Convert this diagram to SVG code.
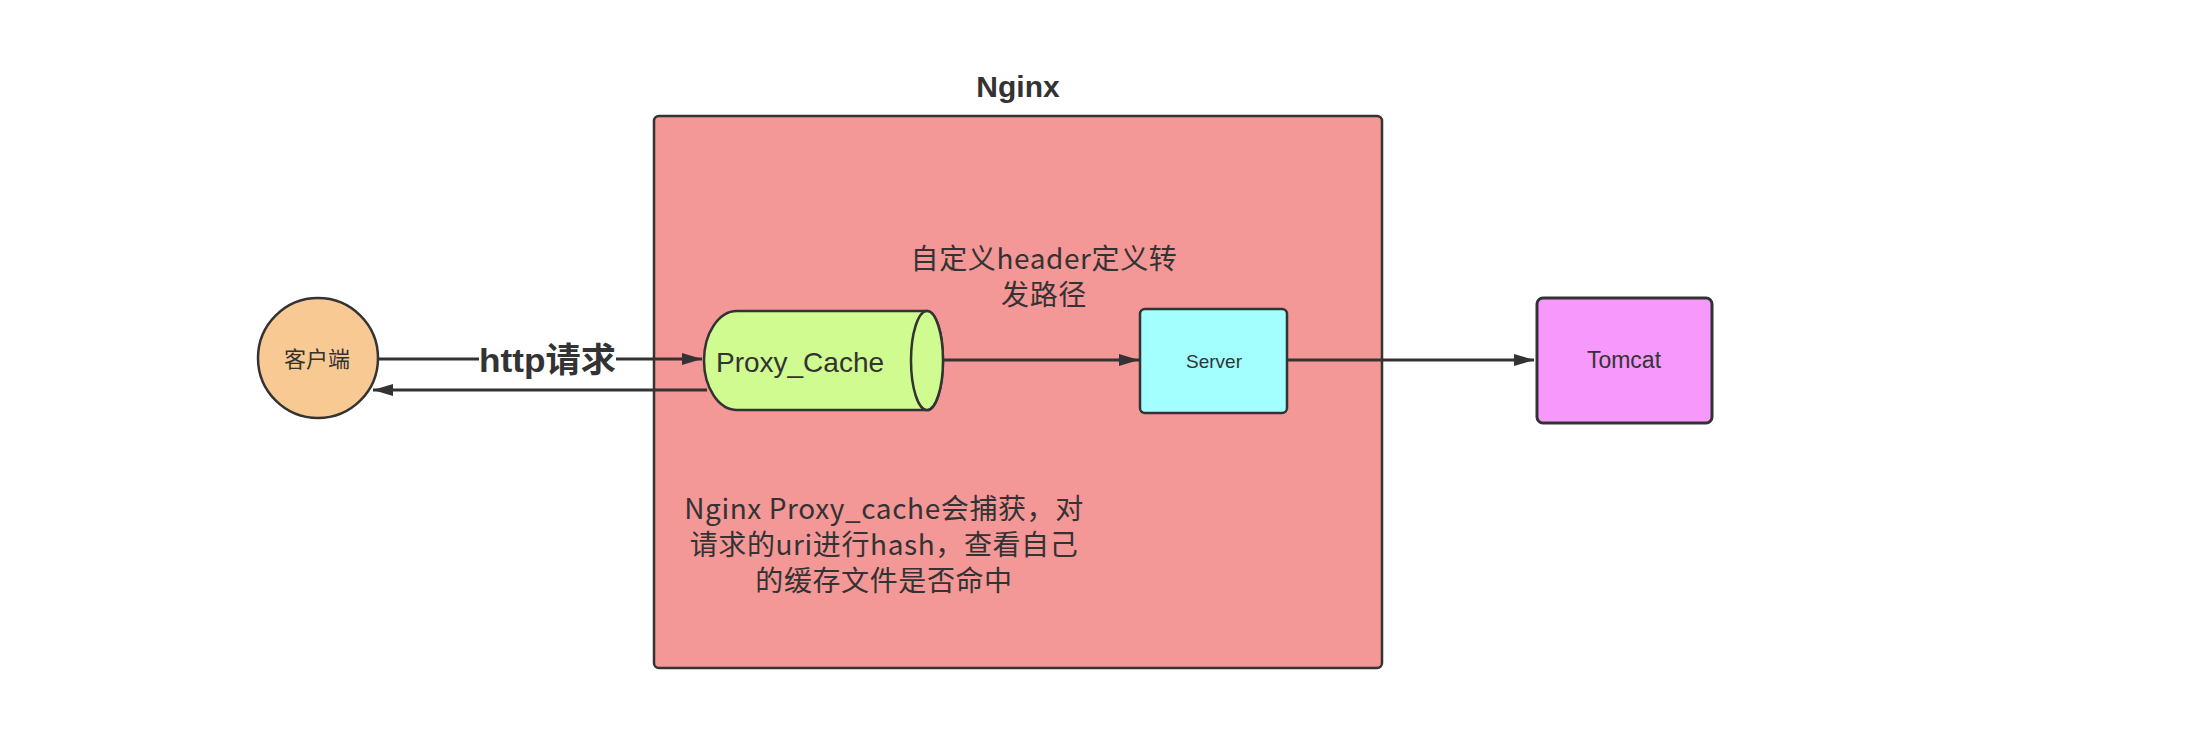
<svg xmlns="http://www.w3.org/2000/svg" width="2206" height="745" viewBox="0 0 2206 745">
  <style>
    .stroke { stroke: #333333; stroke-width: 2.5; }
    .conn { stroke: #333333; stroke-width: 3; fill: none; }
    .lbl { font-family: "Liberation Sans", "Noto Sans CJK SC", sans-serif; fill: #333333; text-anchor: middle; }
    .cjk { font-family: "Noto Sans CJK SC", sans-serif; fill: #333333; text-anchor: middle; font-size: 28px; letter-spacing: 0.6px; }
  </style>
  <defs>
    <marker id="arrow" viewBox="0 0 20 12" refX="20" refY="6" markerWidth="20" markerHeight="12" markerUnits="userSpaceOnUse" orient="auto">
      <path d="M0,0 L20,6 L0,12 Z" fill="#333333"/>
    </marker>
  </defs>
  <rect width="2206" height="745" fill="#ffffff"/>

  <g id="nginx">
    <rect x="654" y="116" width="728" height="552" rx="5" fill="#f49797" class="stroke"/>
    <text x="1018" y="97" class="lbl" font-size="30" font-weight="bold" fill="#222222">Nginx</text>
    <text x="1044" y="269" class="cjk">自定义header定义转</text>
    <text x="1044" y="305" class="cjk">发路径</text>
    <text x="884" y="519" class="cjk">Nginx Proxy_cache会捕获，对</text>
    <text x="884" y="555" class="cjk">请求的uri进行hash，查看自己</text>
    <text x="884" y="591" class="cjk">的缓存文件是否命中</text>
  </g>

  <g id="connectors">
    <line x1="378" y1="359" x2="702" y2="359" class="conn" marker-end="url(#arrow)"/>
    <line x1="707" y1="390" x2="373" y2="390" class="conn" marker-end="url(#arrow)"/>
    <line x1="943" y1="360" x2="1139" y2="360" class="conn" marker-end="url(#arrow)"/>
    <line x1="1287" y1="360" x2="1534" y2="360" class="conn" marker-end="url(#arrow)"/>
    <rect x="479" y="340" width="137" height="40" fill="#ffffff"/>
    <text x="547.5" y="372" class="lbl" font-size="34" font-weight="bold" fill="#333333" textLength="137" lengthAdjust="spacingAndGlyphs">http请求</text>
  </g>

  <g id="client">
    <circle cx="318" cy="358" r="60" fill="#f9c993" class="stroke"/>
    <text x="317" y="367" class="cjk" style="font-size:22px;letter-spacing:0" fill="#555555">客户端</text>
  </g>

  <g id="proxy_cache">
    <path d="M737,311 L927,311 A16,49.5 0 0 1 927,410 L737,410 A33,49.5 0 0 1 737,311 Z" fill="#cffb91" class="stroke"/>
    <ellipse cx="927" cy="360.5" rx="16" ry="49.5" fill="#cffb91" class="stroke"/>
    <text x="800" y="372" class="lbl" font-size="28" fill="#444444">Proxy_Cache</text>
  </g>

  <g id="server">
    <rect x="1140" y="309" width="147" height="104" rx="5" fill="#a3fefe" class="stroke"/>
    <text x="1214" y="368" class="lbl" font-size="19" fill="#555555">Server</text>
  </g>

  <g id="tomcat">
    <rect x="1537" y="298" width="175" height="125" rx="6" fill="#f698fc" stroke="#333333" stroke-width="3"/>
    <text x="1624" y="368" class="lbl" font-size="23" fill="#444444">Tomcat</text>
  </g>
</svg>
